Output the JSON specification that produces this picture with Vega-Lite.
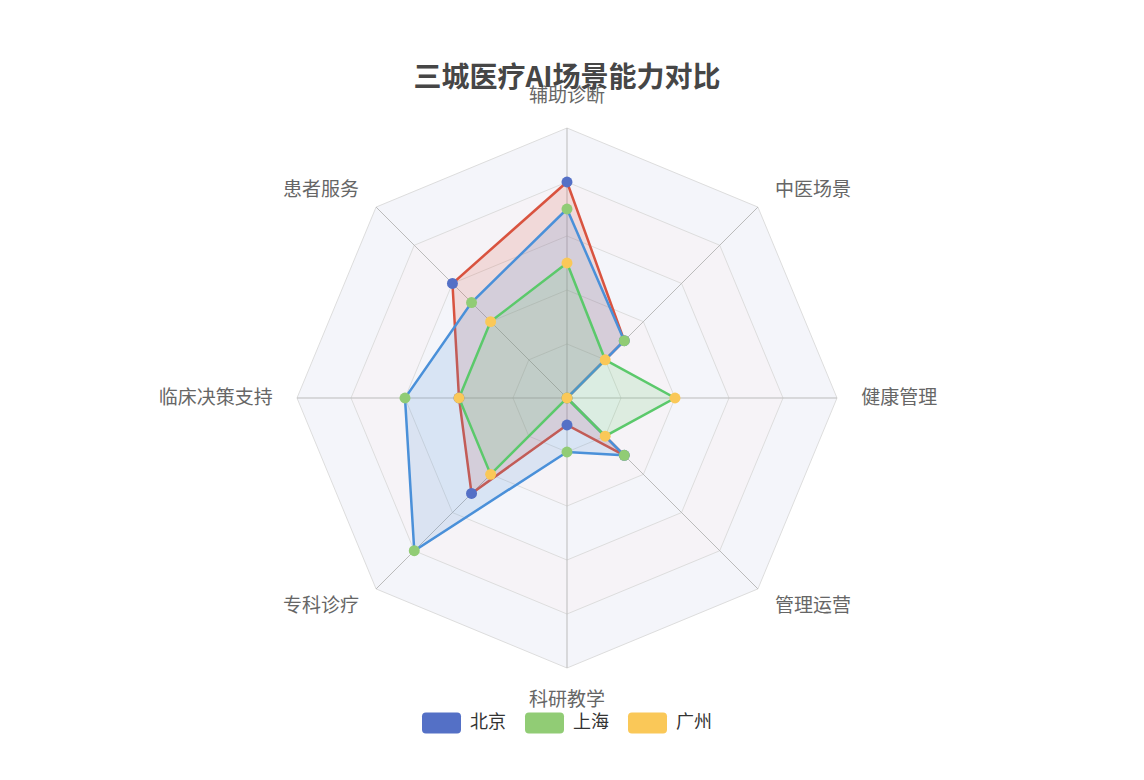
{
  "$schema": "https://vega.github.io/schema/vega-lite/v6.json",
  "width": 540,
  "height": 540,
  "autosize": {"type": "none"},
  "padding": {"left": 297, "top": 128, "right": 307, "bottom": 112},
  "background": "white",
  "title": {
    "text": "三城医疗AI场景能力对比",
    "font": "Noto Sans CJK SC",
    "fontSize": 28,
    "fontWeight": "bold",
    "color": "#464646",
    "anchor": "middle",
    "frame": "group",
    "offset": -6
  },
  "config": {"view": {"stroke": null}, "font": "Noto Sans CJK SC"},
  "datasets": {
    "dims": [
      {"dim": "辅助诊断", "rings": [100, 80, 60, 40, 20]},
      {"dim": "中医场景", "rings": [100, 80, 60, 40, 20]},
      {"dim": "健康管理", "rings": [100, 80, 60, 40, 20]},
      {"dim": "管理运营", "rings": [100, 80, 60, 40, 20]},
      {"dim": "科研教学", "rings": [100, 80, 60, 40, 20]},
      {"dim": "专科诊疗", "rings": [100, 80, 60, 40, 20]},
      {"dim": "临床决策支持", "rings": [100, 80, 60, 40, 20]},
      {"dim": "患者服务", "rings": [100, 80, 60, 40, 20]}
    ],
    "scores": [
      {"city": "北京", "dim": "辅助诊断", "value": 80},
      {"city": "北京", "dim": "中医场景", "value": 30},
      {"city": "北京", "dim": "健康管理", "value": 0},
      {"city": "北京", "dim": "管理运营", "value": 30},
      {"city": "北京", "dim": "科研教学", "value": 10},
      {"city": "北京", "dim": "专科诊疗", "value": 50},
      {"city": "北京", "dim": "临床决策支持", "value": 40},
      {"city": "北京", "dim": "患者服务", "value": 60},
      {"city": "上海", "dim": "辅助诊断", "value": 70},
      {"city": "上海", "dim": "中医场景", "value": 30},
      {"city": "上海", "dim": "健康管理", "value": 0},
      {"city": "上海", "dim": "管理运营", "value": 30},
      {"city": "上海", "dim": "科研教学", "value": 20},
      {"city": "上海", "dim": "专科诊疗", "value": 80},
      {"city": "上海", "dim": "临床决策支持", "value": 60},
      {"city": "上海", "dim": "患者服务", "value": 50},
      {"city": "广州", "dim": "辅助诊断", "value": 50},
      {"city": "广州", "dim": "中医场景", "value": 20},
      {"city": "广州", "dim": "健康管理", "value": 40},
      {"city": "广州", "dim": "管理运营", "value": 20},
      {"city": "广州", "dim": "科研教学", "value": 0},
      {"city": "广州", "dim": "专科诊疗", "value": 40},
      {"city": "广州", "dim": "临床决策支持", "value": 40},
      {"city": "广州", "dim": "患者服务", "value": 40}
    ]
  },
  "encoding": {
    "x": {"field": "px", "type": "quantitative", "scale": {"domain": [-100, 100], "nice": false, "zero": false}, "axis": null},
    "y": {"field": "py", "type": "quantitative", "scale": {"domain": [-100, 100], "nice": false, "zero": false}, "axis": null}
  },
  "layer": [
    {
      "data": {"name": "dims"},
      "transform": [
        {"window": [{"op": "row_number", "as": "idx"}]},
        {"calculate": "(datum.idx - 1) * PI / 4", "as": "ang"},
        {"flatten": ["rings"], "as": ["ring"]},
        {"calculate": "'r' + datum.ring", "as": "ringKey"},
        {"calculate": "datum.ring * sin(datum.ang)", "as": "px"},
        {"calculate": "datum.ring * cos(datum.ang)", "as": "py"}
      ],
      "mark": {"type": "line", "interpolate": "linear-closed", "stroke": "#dddddd", "strokeWidth": 1},
      "encoding": {
        "detail": {"field": "ringKey"},
        "order": {"field": "idx"},
        "fill": {"condition": {"test": "datum.ring % 40 == 20", "value": "#f4f5fa"}, "value": "#f6f3f7"}
      }
    },
    {
      "data": {"name": "dims"},
      "transform": [
        {"window": [{"op": "row_number", "as": "idx"}]},
        {"calculate": "(datum.idx - 1) * PI / 4", "as": "ang"},
        {"calculate": "100 * sin(datum.ang)", "as": "px"},
        {"calculate": "100 * cos(datum.ang)", "as": "py"}
      ],
      "mark": {"type": "rule", "stroke": "#bbbbbb", "strokeWidth": 1},
      "encoding": {
        "x": {"datum": 0, "type": "quantitative"},
        "y": {"datum": 0, "type": "quantitative"},
        "x2": {"field": "px"},
        "y2": {"field": "py"}
      }
    },
    {
      "data": {"name": "scores"},
      "transform": [
        {"window": [{"op": "row_number", "as": "idx"}], "groupby": ["city"]},
        {"calculate": "(datum.idx - 1) * PI / 4", "as": "ang"},
        {"calculate": "datum.value * sin(datum.ang)", "as": "px"},
        {"calculate": "datum.value * cos(datum.ang)", "as": "py"}
      ],
      "layer": [
        {
          "mark": {"type": "line", "interpolate": "linear-closed", "strokeWidth": 2.5, "fillOpacity": 0.16},
          "encoding": {
            "order": {"field": "idx"},
            "stroke": {"field": "city", "type": "nominal", "scale": {"domain": ["上海", "北京", "广州"], "range": ["#4a90d9", "#d9533f", "#5bc96b"]}, "legend": null},
            "fill": {"field": "city", "type": "nominal", "scale": {"domain": ["上海", "北京", "广州"], "range": ["#4a90d9", "#d9533f", "#5bc96b"]}, "legend": null}
          }
        },
        {
          "mark": {"type": "point", "filled": true, "size": 120, "opacity": 1, "strokeWidth": 0},
          "encoding": {
            "color": {
              "field": "city",
              "type": "nominal",
              "scale": {"domain": ["北京", "上海", "广州"], "range": ["#5470c6", "#91cc75", "#fac858"]},
              "legend": {
                "title": null,
                "orient": "none",
                "legendX": 125,
                "legendY": 575,
                "direction": "horizontal",
                "symbolType": "M-0.8,-0.54L0.8,-0.54Q1,-0.54,1,-0.34L1,0.34Q1,0.54,0.8,0.54L-0.8,0.54Q-1,0.54,-1,0.34L-1,-0.34Q-1,-0.54,-0.8,-0.54Z",
                "symbolSize": 1521,
                "symbolStrokeWidth": 0,
                "symbolOpacity": 1,
                "labelFont": "Noto Sans CJK SC",
                "labelFontSize": 18,
                "labelColor": "#333333",
                "labelOffset": 9,
                "columnPadding": 19
              }
            }
          }
        }
      ]
    },
    {
      "data": {"name": "dims"},
      "transform": [
        {"window": [{"op": "row_number", "as": "idx"}]},
        {"calculate": "(datum.idx - 1) * PI / 4", "as": "ang"},
        {"calculate": "(datum.idx == 1 || datum.idx == 5) ? 112 : 109", "as": "lr"},
        {"calculate": "datum.lr * sin(datum.ang)", "as": "px"},
        {"calculate": "datum.lr * cos(datum.ang)", "as": "py"}
      ],
      "layer": [
        {
          "transform": [{"filter": "datum.idx == 1 || datum.idx == 5"}],
          "mark": {"type": "text", "align": "center", "baseline": "middle", "fontSize": 19, "color": "#666666", "font": "Noto Sans CJK SC"},
          "encoding": {"text": {"field": "dim"}}
        },
        {
          "transform": [{"filter": "datum.idx >= 2 && datum.idx <= 4"}],
          "mark": {"type": "text", "align": "left", "baseline": "middle", "fontSize": 19, "color": "#666666", "font": "Noto Sans CJK SC"},
          "encoding": {"text": {"field": "dim"}}
        },
        {
          "transform": [{"filter": "datum.idx >= 6"}],
          "mark": {"type": "text", "align": "right", "baseline": "middle", "fontSize": 19, "color": "#666666", "font": "Noto Sans CJK SC"},
          "encoding": {"text": {"field": "dim"}}
        }
      ]
    }
  ]
}
